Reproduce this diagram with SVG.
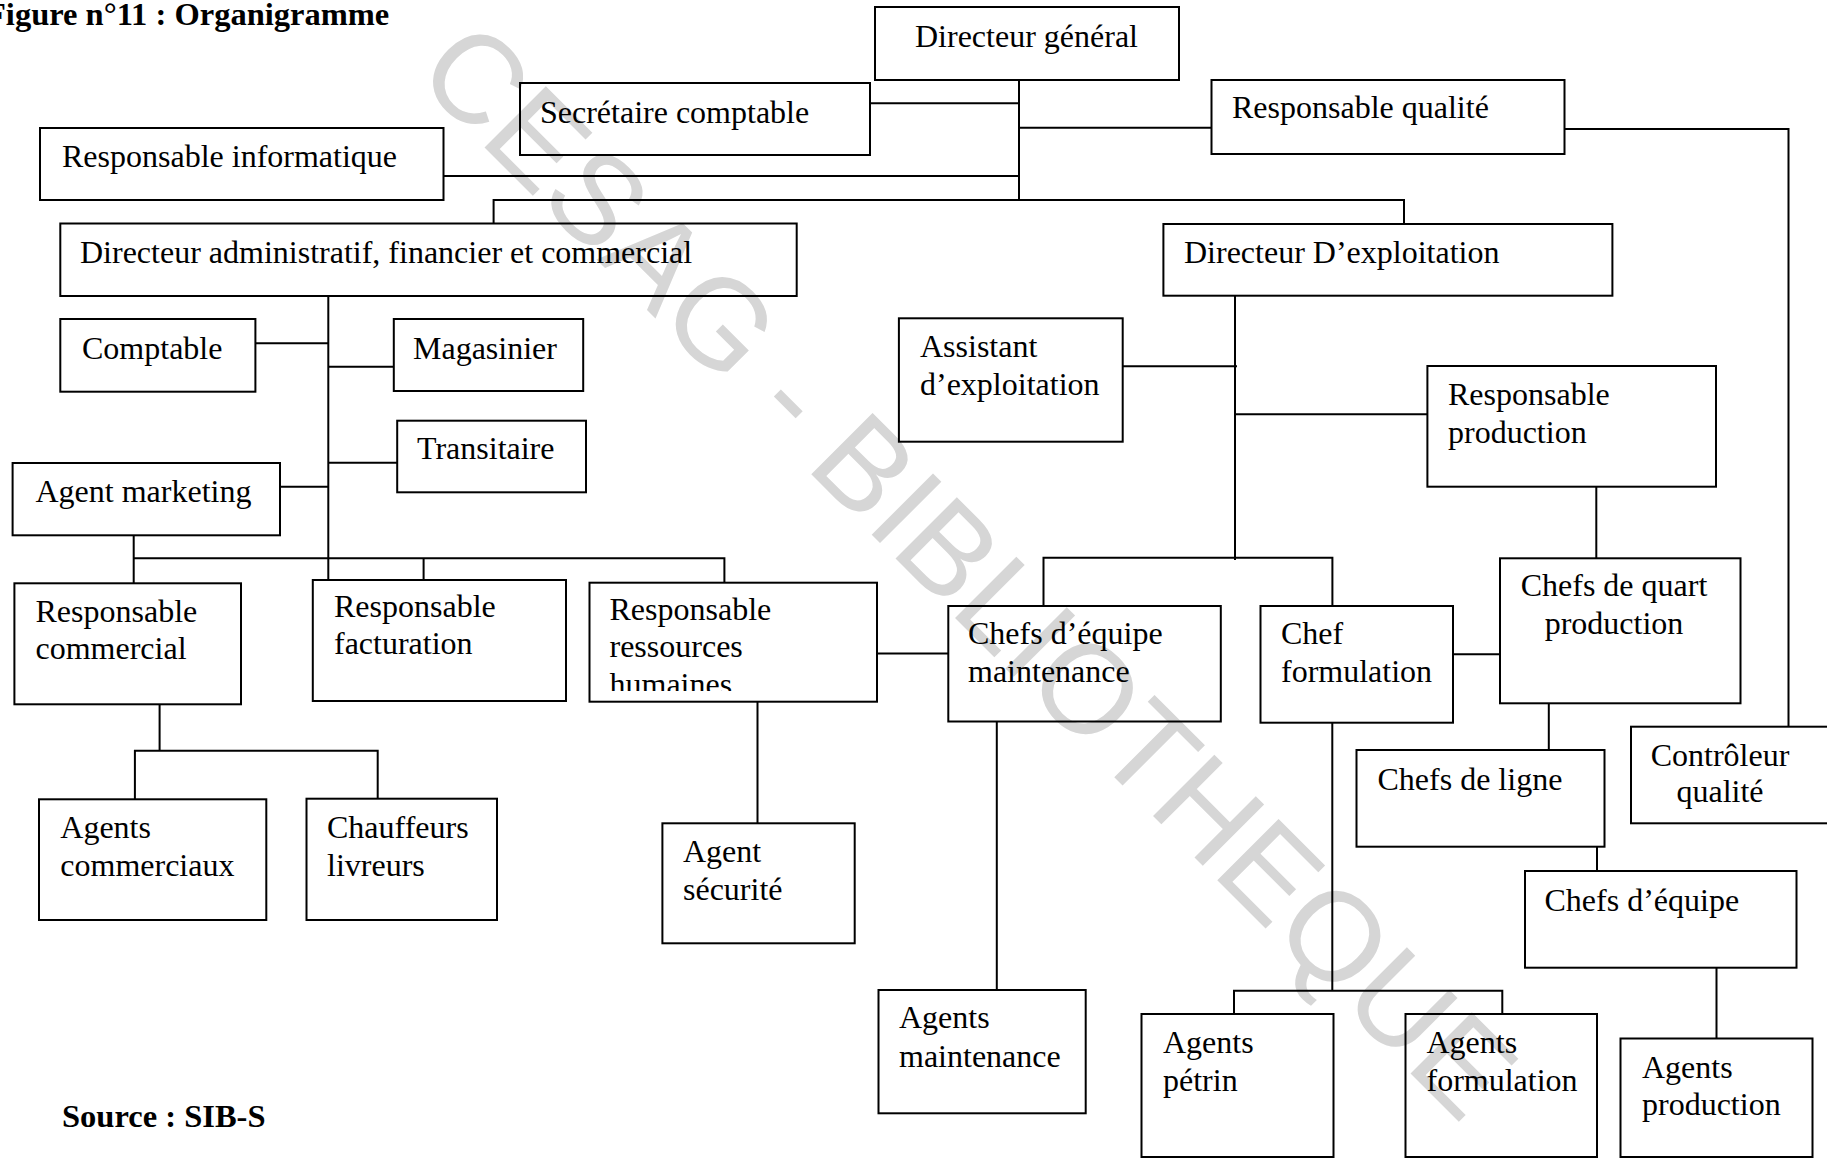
<svg xmlns="http://www.w3.org/2000/svg" width="1827" height="1158" viewBox="0 0 1827 1158">
  <style>
    .box { fill: none; stroke: #000; stroke-width: 2; }
    .wire { fill: none; stroke: #000; stroke-width: 2; }
    .lbl { font-family: "Liberation Serif", "Times New Roman", serif; font-size: 32px; fill: #000; }
    .mid { text-anchor: middle; }
    .head { font-family: "Liberation Serif", "Times New Roman", serif; font-weight: bold; fill: #000; }
    .stamp { font-family: "Liberation Sans", Arial, sans-serif; font-size: 126px; fill: #d6d6d6; }
  </style>
  <defs>
    <clipPath id="clip-rh">
      <rect x="590" y="583" width="287" height="108"/>
    </clipPath>
  </defs>

  <rect x="0" y="0" width="1827" height="1158" fill="#fff"/>

  <!-- library stamp across the page -->
  <text class="stamp" transform="translate(413,76) rotate(45)">CESAG - BIBLIOTHEQUE</text>

  <text class="head" x="-14" y="25" font-size="32.5">Figure n°11 : Organigramme</text>
  <text class="head" x="62" y="1127" font-size="32.5">Source : SIB-S</text>

  <g id="connectors">
    <!-- top management -->
    <path class="wire" d="M1019,80 V200"/>
    <path class="wire" d="M869.6,103.3 H1019"/>
    <path class="wire" d="M1019,127.7 H1211.5"/>
    <path class="wire" d="M443.5,176 H1019"/>
    <path class="wire" d="M493.6,223.5 V200 H1404 V224"/>
    <path class="wire" d="M1564.3,129 H1788.5 V726.7"/>
    <!-- administrative branch -->
    <path class="wire" d="M328.3,296 V580"/>
    <path class="wire" d="M255.4,343.3 H328.3"/>
    <path class="wire" d="M328.3,366.7 H393.8"/>
    <path class="wire" d="M328.3,462.7 H397.2"/>
    <path class="wire" d="M280,486.7 H328.3"/>
    <path class="wire" d="M133.7,535.3 V583.3 M133.7,558.3 H724.4 V582.7 M423.6,558.3 V580"/>
    <path class="wire" d="M877,653.5 H948.3"/>
    <path class="wire" d="M159.6,704.3 V750.7 M134.9,799.3 V750.7 H377.7 V798.7"/>
    <path class="wire" d="M757.5,701.7 V823.3"/>
    <!-- operations branch -->
    <path class="wire" d="M1235,295.7 V560"/>
    <path class="wire" d="M1122.7,366.3 H1237"/>
    <path class="wire" d="M1235,414.3 H1427.4"/>
    <path class="wire" d="M1043.5,606 V557.7 H1332.4 V606"/>
    <path class="wire" d="M1596.3,486.7 V558.3"/>
    <path class="wire" d="M1453,654.3 H1500"/>
    <path class="wire" d="M1548.8,703.3 V750"/>
    <path class="wire" d="M1597,846.7 V871"/>
    <path class="wire" d="M1716.5,967.7 V1038.5"/>
    <path class="wire" d="M996.8,721.5 V990"/>
    <path class="wire" d="M1332.3,722.7 V990.7 M1234,1014 V990.7 H1502.3 V1014"/>
  </g>

  <g id="n-dg">
    <rect class="box" x="875" y="7" width="304" height="73"/>
    <text class="lbl" x="915" y="47">Directeur général</text>
  </g>
  <g id="n-secretaire">
    <rect class="box" x="520" y="83" width="350" height="72"/>
    <text class="lbl" x="540" y="122.5">Secrétaire comptable</text>
  </g>
  <g id="n-informatique">
    <rect class="box" x="40" y="128" width="403.5" height="72"/>
    <text class="lbl" x="62" y="166.5">Responsable informatique</text>
  </g>
  <g id="n-qualite">
    <rect class="box" x="1211.5" y="80" width="353" height="74"/>
    <text class="lbl" x="1232" y="118">Responsable qualité</text>
  </g>
  <g id="n-dafc">
    <rect class="box" x="60.3" y="223.5" width="736.4" height="72.5"/>
    <text class="lbl" x="80" y="263">Directeur administratif, financier et commercial</text>
  </g>
  <g id="n-dexp">
    <rect class="box" x="1163.4" y="224" width="449" height="71.7"/>
    <text class="lbl" x="1184" y="263">Directeur D’exploitation</text>
  </g>
  <g id="n-comptable">
    <rect class="box" x="60.3" y="319" width="195.1" height="72.7"/>
    <text class="lbl" x="82" y="359">Comptable</text>
  </g>
  <g id="n-magasinier">
    <rect class="box" x="393.8" y="319" width="189.4" height="72"/>
    <text class="lbl" x="413" y="358.5">Magasinier</text>
  </g>
  <g id="n-transitaire">
    <rect class="box" x="397.2" y="420.7" width="188.8" height="71.6"/>
    <text class="lbl" x="417" y="459">Transitaire</text>
  </g>
  <g id="n-marketing">
    <rect class="box" x="12.6" y="463" width="267.4" height="72.3"/>
    <text class="lbl" x="35.5" y="501.5">Agent marketing</text>
  </g>
  <g id="n-assistant">
    <rect class="box" x="898.9" y="318.3" width="223.8" height="123.4"/>
    <text class="lbl" x="920" y="356.5">Assistant</text>
    <text class="lbl" x="920" y="395">d’exploitation</text>
  </g>
  <g id="n-resp-prod">
    <rect class="box" x="1427.4" y="366" width="288.6" height="120.7"/>
    <text class="lbl" x="1448" y="405">Responsable</text>
    <text class="lbl" x="1448" y="442.5">production</text>
  </g>
  <g id="n-resp-com">
    <rect class="box" x="14.4" y="583.3" width="226.6" height="121"/>
    <text class="lbl" x="35.5" y="621.5">Responsable</text>
    <text class="lbl" x="35.5" y="658.5">commercial</text>
  </g>
  <g id="n-resp-fact">
    <rect class="box" x="312.8" y="580" width="253.2" height="121"/>
    <text class="lbl" x="334" y="617">Responsable</text>
    <text class="lbl" x="334" y="654">facturation</text>
  </g>
  <g id="n-rh">
    <rect class="box" x="589.5" y="582.7" width="287.5" height="119"/>
    <text class="lbl" x="609.5" y="620">Responsable</text>
    <text class="lbl" x="609.5" y="657">ressources</text>
    <text class="lbl" x="609.5" y="694.5" clip-path="url(#clip-rh)">humaines</text>
  </g>
  <g id="n-chefs-maint">
    <rect class="box" x="948.3" y="606" width="272.5" height="115.5"/>
    <text class="lbl" x="968" y="644">Chefs d’équipe</text>
    <text class="lbl" x="968" y="681.7">maintenance</text>
  </g>
  <g id="n-chef-form">
    <rect class="box" x="1260.5" y="606" width="192.5" height="116.7"/>
    <text class="lbl" x="1281" y="644">Chef</text>
    <text class="lbl" x="1281" y="681.7">formulation</text>
  </g>
  <g id="n-chefs-quart">
    <rect class="box" x="1500" y="558.3" width="240.5" height="145"/>
    <text class="lbl mid" x="1614" y="596">Chefs de quart</text>
    <text class="lbl mid" x="1614" y="633.5">production</text>
  </g>
  <g id="n-agents-com">
    <rect class="box" x="39" y="799.3" width="227.3" height="120.7"/>
    <text class="lbl" x="60.3" y="838.3">Agents</text>
    <text class="lbl" x="60.3" y="876">commerciaux</text>
  </g>
  <g id="n-chauffeurs">
    <rect class="box" x="306.5" y="798.7" width="190.5" height="121.3"/>
    <text class="lbl" x="327" y="838">Chauffeurs</text>
    <text class="lbl" x="327" y="876">livreurs</text>
  </g>
  <g id="n-securite">
    <rect class="box" x="662.4" y="823.3" width="192.3" height="120"/>
    <text class="lbl" x="683" y="861.7">Agent</text>
    <text class="lbl" x="683" y="900">sécurité</text>
  </g>
  <g id="n-chefs-ligne">
    <rect class="box" x="1356.5" y="750" width="248" height="96.7"/>
    <text class="lbl" x="1377.5" y="790">Chefs de ligne</text>
  </g>
  <g id="n-controleur">
    <rect class="box" x="1631" y="726.7" width="200" height="96.6"/>
    <text class="lbl mid" x="1720" y="766">Contrôleur</text>
    <text class="lbl mid" x="1720" y="801.7">qualité</text>
  </g>
  <g id="n-chefs-equipe">
    <rect class="box" x="1525" y="871" width="271.5" height="96.7"/>
    <text class="lbl" x="1544.5" y="910.5">Chefs d’équipe</text>
  </g>
  <g id="n-agents-maint">
    <rect class="box" x="878.5" y="990" width="207.2" height="123.3"/>
    <text class="lbl" x="899" y="1028.3">Agents</text>
    <text class="lbl" x="899" y="1066.7">maintenance</text>
  </g>
  <g id="n-agents-petrin">
    <rect class="box" x="1141.5" y="1014" width="192" height="143"/>
    <text class="lbl" x="1163" y="1053.3">Agents</text>
    <text class="lbl" x="1163" y="1090.5">pétrin</text>
  </g>
  <g id="n-agents-form">
    <rect class="box" x="1405.5" y="1014" width="191.5" height="143"/>
    <text class="lbl" x="1426.5" y="1053.3">Agents</text>
    <text class="lbl" x="1426.5" y="1090.5">formulation</text>
  </g>
  <g id="n-agents-prod">
    <rect class="box" x="1620.5" y="1038.5" width="192" height="118.5"/>
    <text class="lbl" x="1642" y="1078">Agents</text>
    <text class="lbl" x="1642" y="1115">production</text>
  </g>
</svg>
